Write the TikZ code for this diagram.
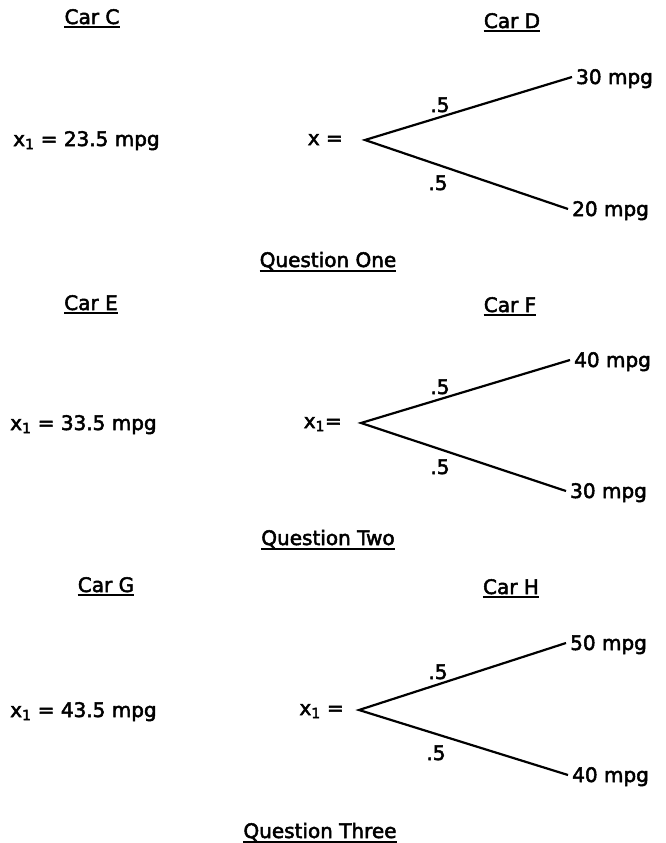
\documentclass[tikz,border=0pt]{standalone}
\usepackage{fontspec}
\setmainfont{DejaVu Sans}[FakeBold=2.5]
\usetikzlibrary{positioning}

\begin{document}
\begin{tikzpicture}[
      x=1pt, y=-1pt,
      node distance=22pt,
      txt/.style={inner sep=0pt, text height=14pt, text depth=0pt, font=\fontsize{20}{24}\selectfont},
      head/.style={txt},
      lhs/.style={txt, text height=10pt},
      outcome/.style={txt, anchor=west, inner xsep=4pt},
      prob/.style={txt},
      branch/.style={line width=2.2pt},
      uline/.style={line width=1.6pt}
    ]
    \useasboundingbox (0,0) rectangle (666,843);

    % Question One
    \node [head] (carC) at (92,17) {Car C};
    \node [head] (carD) at (512,21) {Car D};
    \node [txt, anchor=west] (certC) at (13,139) {x\textsubscript{1} = 23.5 mpg};
    \coordinate (forkD) at (365,140);
    \node [lhs, left=22pt of forkD] (eqD) {x =};
    \node [outcome] (hiD) at (572,77) {30 mpg};
    \node [outcome] (loD) at (568,209) {20 mpg};
    \node [prob] (phiD) at (440,105) {.5};
    \node [prob] (ploD) at (438,183) {.5};
    \node [head] (qOne) at (328,260) {Question One};

    \draw [branch] (hiD.west) -- (forkD) -- (loD.west);
    \draw [uline] ([yshift=-3pt]carC.south west) -- ([yshift=-3pt]carC.south east);
    \draw [uline] ([yshift=-3pt]carD.south west) -- ([yshift=-3pt]carD.south east);
    \draw [uline] ([yshift=-4pt]qOne.south west) -- ([yshift=-4pt]qOne.south east);

    % Question Two
    \node [head] (carE) at (91,303) {Car E};
    \node [head] (carF) at (510,305) {Car F};
    \node [txt, anchor=west] (certE) at (10,423) {x\textsubscript{1} = 33.5 mpg};
    \coordinate (forkF) at (361,423);
    \node [lhs, left=19pt of forkF] (eqF) {x\textsubscript{1}=};
    \node [outcome] (hiF) at (570,360) {40 mpg};
    \node [outcome] (loF) at (566,491) {30 mpg};
    \node [prob] (phiF) at (440,387) {.5};
    \node [prob] (ploF) at (440,467) {.5};
    \node [head] (qTwo) at (328,538) {Question Two};

    \draw [branch] (hiF.west) -- (forkF) -- (loF.west);
    \draw [uline] ([yshift=-3pt]carE.south west) -- ([yshift=-3pt]carE.south east);
    \draw [uline] ([yshift=-3pt]carF.south west) -- ([yshift=-3pt]carF.south east);
    \draw [uline] ([yshift=-4pt]qTwo.south west) -- ([yshift=-4pt]qTwo.south east);

    % Question Three
    \node [head] (carG) at (106,585) {Car G};
    \node [head] (carH) at (511,587) {Car H};
    \node [txt, anchor=west] (certG) at (10,710) {x\textsubscript{1} = 43.5 mpg};
    \coordinate (forkH) at (359,710);
    \node [lhs, left=15pt of forkH] (eqH) {x\textsubscript{1} =};
    \node [outcome] (hiH) at (566,643) {50 mpg};
    \node [outcome] (loH) at (568,775) {40 mpg};
    \node [prob] (phiH) at (438,672) {.5};
    \node [prob] (ploH) at (436,753) {.5};
    \node [head] (qThree) at (320,831) {Question Three};

    \draw [branch] (hiH.west) -- (forkH) -- (loH.west);
    \draw [uline] ([yshift=-3pt]carG.south west) -- ([yshift=-3pt]carG.south east);
    \draw [uline] ([yshift=-3pt]carH.south west) -- ([yshift=-3pt]carH.south east);
    \draw [uline] ([yshift=-4pt]qThree.south west) -- ([yshift=-4pt]qThree.south east);
  \end{tikzpicture}
\end{document}
